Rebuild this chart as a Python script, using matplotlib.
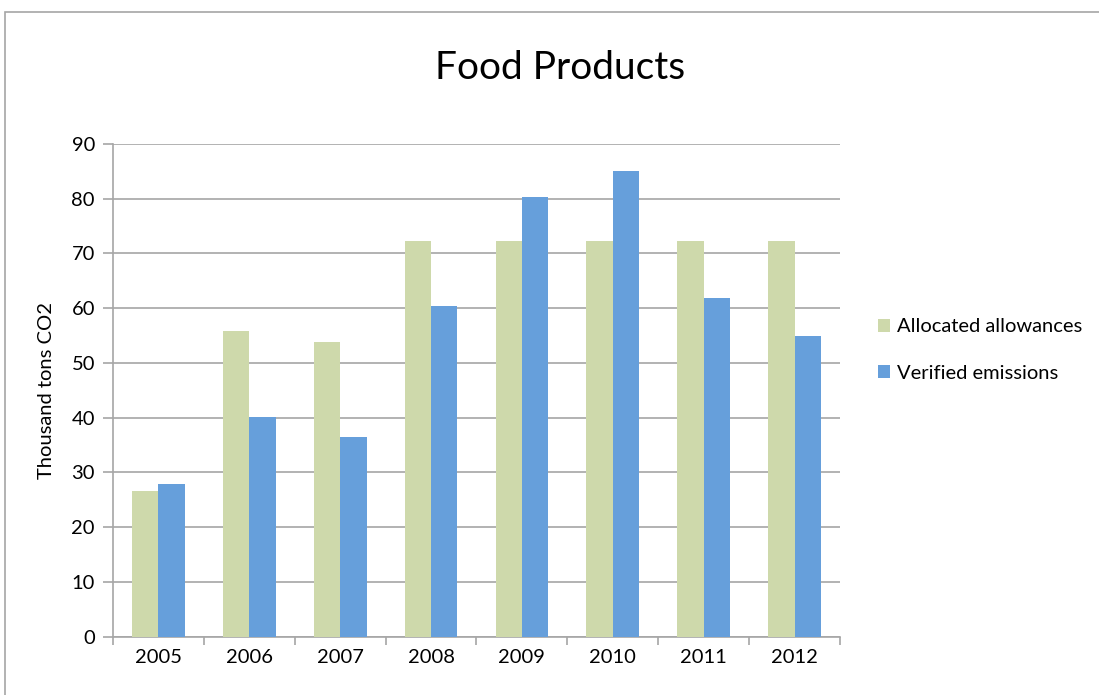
import numpy as np
import matplotlib.pyplot as plt
from matplotlib.patches import Rectangle

years = ['2005', '2006', '2007', '2008', '2009', '2010', '2011', '2012']
allocated = [26.7, 55.8, 53.8, 72.2, 72.2, 72.2, 72.2, 72.2]
verified = [27.9, 40.2, 36.5, 60.4, 80.4, 85.1, 61.9, 55.0]

plt.rcParams['font.family'] = ['Lato', 'DejaVu Sans']

fig = plt.figure(figsize=(10.99, 6.95), dpi=100)
ax = fig.add_axes([0.1028, 0.0839, 0.6615, 0.7089])

# outer chart frame
fig.patches.append(Rectangle((5 / 1099, -0.01), 1.02, 1 - 12 / 695 + 0.01,
                             transform=fig.transFigure, fill=False,
                             edgecolor='#A6A6A6', linewidth=1.2))

x = np.arange(len(years))
w = 0.29
ax.bar(x - w / 2, allocated, w, color='#CED9AB', label='Allocated allowances', zorder=3)
ax.bar(x + w / 2, verified, w, color='#669FDB', label='Verified emissions', zorder=3)

ax.set_xlim(-0.5, len(years) - 0.5)
ax.set_ylim(0, 90)
ax.set_yticks(range(0, 91, 10))
ax.yaxis.grid(True, color='#A6A6A6', linewidth=1.2, zorder=0)
ax.set_axisbelow(True)

ax.set_xticks(x)
ax.set_xticklabels(years)
ax.set_xticks(np.arange(-0.5, len(years), 1), minor=True)
ax.tick_params(axis='x', which='major', length=0, pad=9, labelsize=14.5)
ax.tick_params(axis='x', which='minor', length=6, color='#A6A6A6', width=1.2)
ax.tick_params(axis='y', length=7, color='#A6A6A6', width=1.2, pad=6, labelsize=14.5)

for s in ['top', 'right']:
    ax.spines[s].set_visible(False)
for s in ['left', 'bottom']:
    ax.spines[s].set_color('#A6A6A6')
    ax.spines[s].set_linewidth(1.2)

ax.set_ylabel('Thousand tons CO2', fontsize=14.5, labelpad=12)
fig.text(0.51, 0.902, 'Food Products', ha='center', va='center', fontsize=28)

fig.legend(loc='center left', bbox_to_anchor=(860 / 1099, 1 - 350 / 695),
           frameon=False, fontsize=14.5, handlelength=0.6, handleheight=0.6,
           handletextpad=0.35, labelspacing=1.45)

fig.savefig('out.png', dpi=100)
